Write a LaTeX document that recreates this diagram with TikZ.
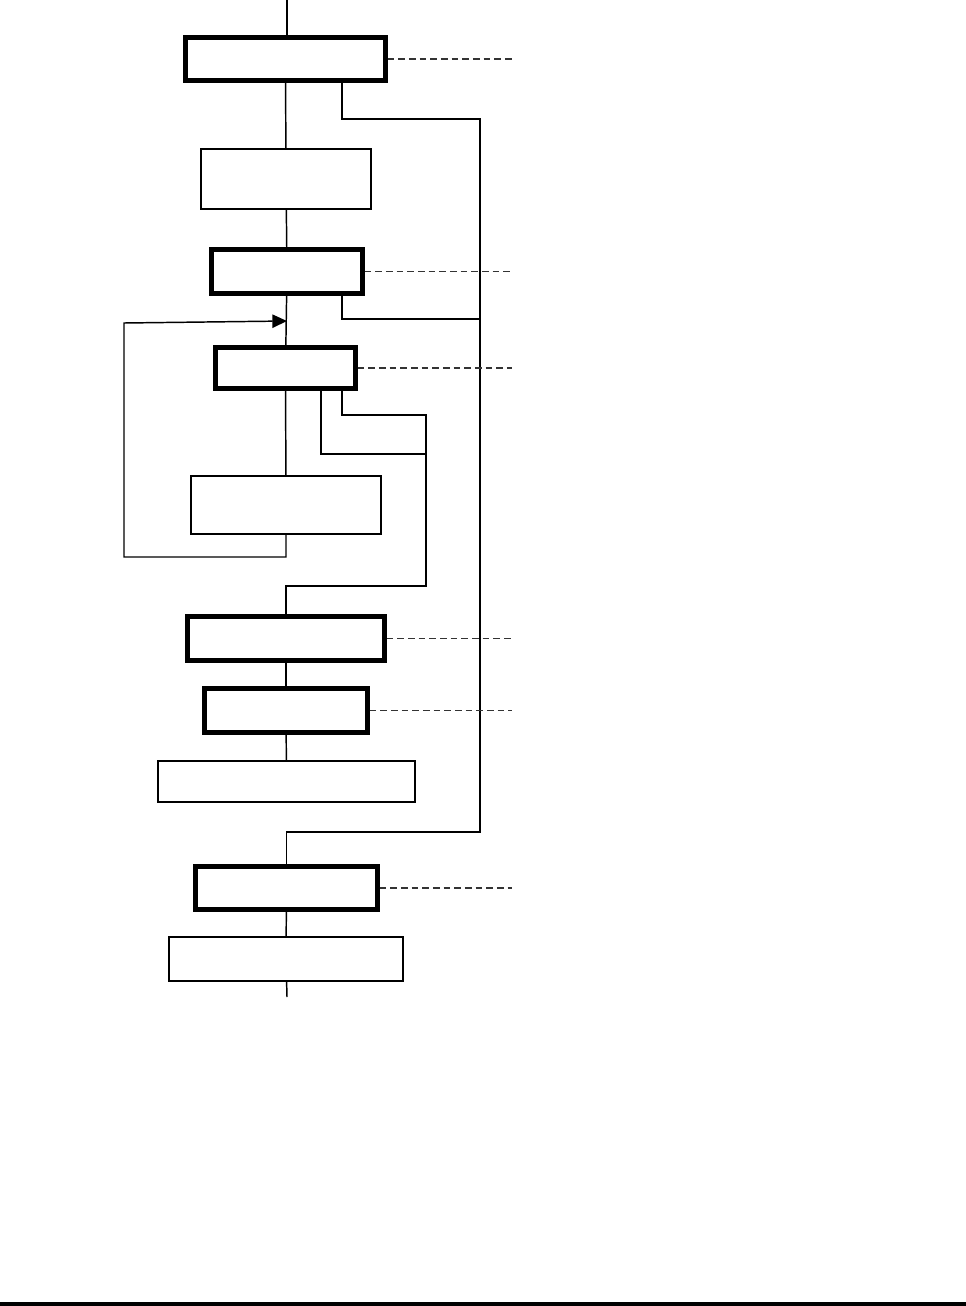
\documentclass[tikz,border=0pt]{standalone}
\usepackage{tikz}
\usetikzlibrary{positioning, arrows.meta}

\tikzset{
    thickbox/.style={draw, line width=4pt, inner sep=0pt, outer sep=0pt, fill=white},
    thinbox/.style={draw, line width=1.4pt, inner sep=0pt, outer sep=0pt, fill=white},
    wire/.style={line width=1.1pt},
    leader/.style={line width=1.1pt, black!80, dash pattern=on 5pt off 3pt}
}

\begin{document}
\begin{tikzpicture}[x=0.75pt, y=-0.75pt]
    \useasboundingbox (0,0) rectangle (966,1306);

    % boxes on the main line
    \node[thickbox, minimum width=150pt,    minimum height=32.5pt]  (b1)  at (285.5,59)  {};
    \node[thinbox,  minimum width=127.5pt,  minimum height=45pt]    (b2)  at (286,179)    {};
    \node[thickbox, minimum width=113.25pt, minimum height=33pt]    (b3)  at (287,271.5)  {};
    \node[thickbox, minimum width=105pt,    minimum height=31pt]    (b4)  at (285.5,368)  {};
    \node[thinbox,  minimum width=142.5pt,  minimum height=43.5pt]  (b5)  at (286,505)    {};
    \node[thickbox, minimum width=148pt,    minimum height=33pt]    (b6)  at (286,638.5)  {};
    \node[thickbox, minimum width=122.25pt, minimum height=33pt]    (b7)  at (286,710.5)  {};
    \node[thinbox,  minimum width=192.75pt, minimum height=30.75pt] (b8)  at (286.5,781.5) {};
    \node[thickbox, minimum width=136.5pt,  minimum height=32.5pt]  (b9)  at (286.5,888)  {};
    \node[thinbox,  minimum width=175.5pt,  minimum height=33pt]    (b10) at (286,959)    {};

    \coordinate (top) at (287,0);
    \coordinate (bot) at (287,997);
    \coordinate (edge) at (512,0);
    \coordinate (tapA) at (342,0);
    \coordinate (tapB) at (321,0);

    % main line
    \draw[wire] (top) -- (top |- b1.north);
    \draw[wire] (b1) -- (b2);
    \draw[wire] (b2) -- (b3);
    \draw[wire] (b3) -- (b4);
    \draw[wire] (b4) -- (b5);
    \draw[wire] (b6) -- (b7);
    \draw[wire] (b7) -- (b8);
    \draw[wire] (b9) -- (b10);
    \draw[wire] (b10) -- (bot);

    % outer rail
    \coordinate (rail top) at (480,119);
    \coordinate (rail mid) at (480,319);
    \coordinate (rail bot) at (480,832);
    \draw[wire] (b1.south -| tapA) |- (rail top) -- (rail bot) -| (b9.north);
    \draw[wire] (b3.south -| tapA) |- (rail mid);

    % inner rail
    \coordinate (inner hi) at (426,415);
    \coordinate (inner lo) at (426,454);
    \coordinate (inner bot) at (426,586);
    \draw[wire] (b4.south -| tapA) |- (inner hi) -- (inner bot) -| (b6.north);
    \draw[wire] (b4.south -| tapB) |- (inner lo);

    % feedback loop
    \coordinate (loop a) at (124,557);
    \coordinate (loop b) at (124,323);
    \coordinate (entry) at (287,321);
    \draw[wire, -{Triangle[length=11pt, width=10pt]}] (b5.south) |- (loop a) -- (loop b) -- (entry);

    % dashed leaders
    \draw[leader] ([xshift=1.5pt]b1.east) -- (b1.east -| edge);
    \draw[leader] ([xshift=1.5pt]b3.east) -- (b3.east -| edge);
    \draw[leader] ([xshift=1.5pt]b4.east) -- (b4.east -| edge);
    \draw[leader] ([xshift=1.5pt]b6.east) -- (b6.east -| edge);
    \draw[leader] ([xshift=1.5pt]b7.east) -- (b7.east -| edge);
    \draw[leader] ([xshift=1.5pt]b9.east) -- (b9.east -| edge);

    % page rule
    \fill (0,1302) rectangle (966,1306);
\end{tikzpicture}
\end{document}
